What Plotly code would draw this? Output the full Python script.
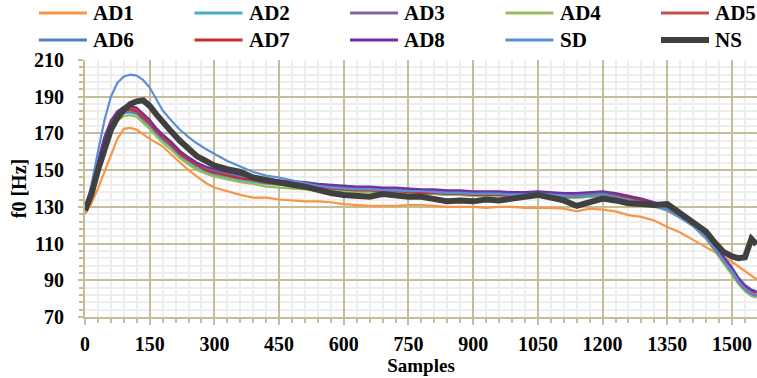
import plotly.graph_objects as go

# Sample index (shared by every series)
samples = [0, 15, 30, 45, 60, 75, 90, 105, 120, 135, 150, 165, 180, 200, 220, 240, 260, 280, 300,
           330, 360, 390, 420, 450, 480, 510, 540, 570, 600, 630, 660, 690, 720, 750, 780, 810, 840,
           870, 900, 930, 960, 990, 1020, 1050, 1080, 1110, 1140, 1170, 1200, 1230, 1260, 1290, 1320,
           1350, 1380, 1410, 1440, 1460, 1480, 1500, 1515, 1530, 1545, 1557]

# f0 contours in Hz
ad1 = [126, 132, 140, 149, 159, 167, 172.5, 173, 172, 169.5, 167, 165, 163, 158.5, 154, 150, 146.5, 143, 140.5,
       138.5, 136.5, 135, 135, 134, 133.5, 133, 133, 132.5, 131.5, 131, 130.5, 130.5, 130.5, 131, 131, 130.5, 130,
       130, 130, 129.5, 130, 130, 129.5, 129.5, 129.5, 129, 127.5, 129, 128.5, 127.5, 125.5, 124.5, 122.5,
       119, 116, 112, 108, 105.5, 102.5, 100, 97.5, 95, 92, 90.5]
ad2 = [129, 138.5, 152, 165, 173.5, 178.5, 181, 181.5, 180.5, 177.5, 174, 170, 166.5, 162.5, 157.5, 154, 151, 149, 147.5,
       146, 144.5, 143.5, 142.5, 142, 141.5, 141, 140, 139.5, 139, 138.5, 138.5, 138, 138, 137.5, 137, 137, 136.5,
       136.5, 136, 136, 136, 135.5, 135.5, 136, 135.5, 135, 135, 135.5, 136, 135, 134, 132.5, 130.5,
       128.5, 124.5, 120, 113, 107, 100.5, 94.5, 89, 85, 82.5, 81.5]
ad3 = [129.5, 140, 154.5, 167.5, 176, 181, 183.5, 184, 183, 180, 176.5, 172.5, 169, 165, 160, 156.5, 153.5, 151.5, 150,
       148.5, 147, 146, 144.5, 144, 143.5, 143, 142, 141.5, 141, 140.5, 140.5, 140, 140, 139.5, 139, 139, 138.5,
       138.5, 138, 138, 138, 137.5, 137.5, 138, 137.5, 137, 137, 137.5, 138, 137, 135.5, 134, 132,
       130, 126.5, 122, 115.5, 109.5, 103, 97, 91.5, 87.5, 85, 84]
ad4 = [128.5, 138, 151, 163.5, 172, 177, 179.5, 180, 179, 176, 172.5, 168.5, 165, 161, 156.5, 153, 150, 148, 146.5,
       145, 143.5, 142.5, 141, 140.5, 140, 139.5, 139, 138.5, 138.5, 138, 138, 137.5, 137.5, 137.5, 137, 137, 136.5,
       136.5, 136, 136, 136, 135.5, 135.5, 136, 135.5, 135, 135, 135.5, 136, 135, 133.5, 132, 130,
       128, 124, 119.5, 112.5, 106, 99.5, 93.5, 88, 84, 81.5, 80.5]
ad5 = [129, 139.5, 153.5, 167, 175.5, 180.5, 183, 184, 183, 180, 176.5, 172, 168.5, 164.5, 159.5, 156, 153, 150.5, 149,
       147.5, 146, 145, 143.5, 143, 142.5, 142, 141, 140.5, 140, 139.5, 139.5, 139, 139, 138.5, 138, 138, 137.5,
       137.5, 137, 137, 137, 136.5, 136.5, 137, 136.5, 136, 136, 136.5, 137, 136, 135, 133.5, 132,
       130, 126, 121.5, 114.5, 108.5, 102, 96, 90.5, 86.5, 84, 83]
ad6 = [129, 139, 152.5, 165.5, 174, 179, 181.5, 182, 181, 178, 174.5, 170.5, 167, 163, 158.5, 155.5, 152.5, 150.5, 149,
       147.5, 146.5, 145.5, 144, 143.5, 143, 142.5, 141.5, 141, 140, 139.5, 139.5, 139, 139, 138.5, 138.5, 138.5, 138,
       138, 137.5, 137.5, 137.5, 137, 137, 137.5, 137, 136.5, 136, 136.5, 137, 136, 134.5, 133, 131,
       128.5, 124.5, 120, 113, 107, 100.5, 94.5, 89, 85, 82.5, 81.5]
ad7 = [129, 139, 153, 166.5, 175, 180, 182.5, 183, 182, 179, 175.5, 171.5, 168, 164, 159, 155.5, 152.5, 150, 148.5,
       147, 145.5, 144.5, 143, 142.5, 142, 141.5, 140.5, 140, 139.5, 139, 139, 138.5, 138.5, 138, 137.5, 137.5, 137,
       137, 136.5, 136.5, 136.5, 136, 136, 136.5, 136, 135.5, 135.5, 136, 136.5, 136, 135, 133.5, 132,
       130, 126.5, 122, 116, 110, 102.5, 95, 89.5, 85.5, 83, 82]
ad8 = [129.5, 140.5, 155, 168, 177, 182, 184.5, 185, 184, 181, 177.5, 173, 169.5, 165.5, 160.5, 157, 154, 152, 150.5,
       149, 147.5, 146.5, 145, 144.5, 144, 143.5, 142.5, 142, 141.5, 141, 141, 140.5, 140.5, 140, 139.5, 139.5, 139,
       139, 138.5, 138.5, 138.5, 138, 138, 138.5, 138, 137.5, 137.5, 138, 138.5, 137.5, 136, 134.5, 132.5,
       130.5, 126.5, 122, 115, 109, 102.5, 96.5, 91, 87, 84.5, 83.5]
sd = [129, 142, 160, 177, 190, 197.5, 201, 202, 201.5, 199, 195, 189, 182.5, 177, 172, 168, 164.5, 161.5, 159,
      155, 152, 149, 147, 146, 144.5, 143, 141.5, 140.5, 140, 139.5, 139.5, 139, 139, 138.5, 138.5, 138, 137.5,
      137.5, 137, 137, 137, 136.5, 136.5, 137, 136.5, 136, 135.5, 136, 136.5, 135.5, 134, 132.5, 130.5,
      128, 124, 119.5, 113, 107.5, 101, 95, 89.5, 85.5, 83, 82]
ns = [128, 137, 150, 162, 172, 178.5, 183, 186, 187.5, 188, 185, 180.5, 176, 171, 166, 161.5, 157.5, 155, 152.5,
      150.5, 149, 146, 144.5, 143, 142, 141, 139, 137.5, 136.5, 136, 135.5, 137, 136, 135.5, 135.5, 134, 133,
      133.5, 133, 134, 133.5, 134.5, 135.5, 136.5, 135, 133.5, 130.5, 132.5, 134.5, 133.5, 132, 131.5, 131,
      131.5, 126.5, 122, 116.5, 110.5, 105.5, 103, 102, 102.5, 112.5, 109.5]

names = ["AD1", "AD2", "AD3", "AD4", "AD5", "AD6", "AD7", "AD8", "SD", "NS"]
series = [ad1, ad2, ad3, ad4, ad5, ad6, ad7, ad8, sd, ns]
colors = ["#F79646", "#4BACC6", "#8064A2", "#9BBB59", "#C0504D",
          "#4F81BD", "#C4302B", "#7030A0", "#5B8FD6", "#404040"]
widths = [2.2, 2.2, 2.2, 2.2, 2.2, 2.2, 2.2, 2.2, 2.2, 6]

x_ticks = list(range(0, 1501, 150))
y_ticks = list(range(70, 211, 20))

TAN = "#C4BD97"
MINOR = "#EEEEEE"
FONT = dict(family="Liberation Serif, Times New Roman, serif", size=20, color="#000000", weight="bold")

W, H = 757, 378
ML, MR, MT, MB = 85, 0, 60, 61
PW, PH = W - ML - MR, H - MT - MB

fig = go.Figure()
for name, ys, col, w in zip(names, series, colors, widths):
    fig.add_trace(go.Scatter(x=samples, y=ys, mode="lines", name=name,
                             line=dict(color=col, width=w), showlegend=False))

# Two-row legend drawn in pixel positions above the plot
def px_x(px):
    return (px - ML) / PW

def px_y(py):
    return (H - MB - py) / PH

shapes, annotations = [], []
row_y = [13, 40]
for i, (name, col, w) in enumerate(zip(names, colors, widths)):
    c, r = i % 5, i // 5
    x0 = 39 + 155.5 * c
    yy = row_y[r]
    shapes.append(dict(type="line", xref="paper", yref="paper",
                       x0=px_x(x0), x1=px_x(x0 + 48), y0=px_y(yy), y1=px_y(yy),
                       line=dict(color=col, width=3 if w < 5 else 6)))
    annotations.append(dict(xref="paper", yref="paper", x=px_x(x0 + 52), y=px_y(yy),
                            text=name, showarrow=False, xanchor="left", yanchor="middle",
                            font=dict(FONT, size=21)))

fig.update_layout(
    width=W, height=H,
    margin=dict(l=ML, r=MR, t=MT, b=MB),
    paper_bgcolor="white", plot_bgcolor="white",
    font=FONT,
    shapes=shapes, annotations=annotations,
    xaxis=dict(
        range=[0, 1558], tickvals=x_ticks, ticktext=[str(v) for v in x_ticks],
        showline=True, linecolor=TAN, linewidth=2,
        showgrid=True, gridcolor=TAN, gridwidth=2,
        ticks="outside", ticklen=6, tickcolor=TAN, tickwidth=2,
        ticklabelstandoff=2, zeroline=False,
        minor=dict(dtick=30, tick0=0, ticks="outside", ticklen=4, tickcolor=TAN, tickwidth=1.5,
                   showgrid=True, gridcolor=MINOR, gridwidth=2),
        title=dict(text="Samples", font=dict(FONT, size=19), standoff=5),
    ),
    yaxis=dict(
        range=[70, 210], tickvals=y_ticks, ticktext=[str(v) for v in y_ticks],
        showline=True, linecolor=TAN, linewidth=2,
        showgrid=True, gridcolor=TAN, gridwidth=2,
        ticks="outside", ticklen=5, tickcolor=TAN, tickwidth=2,
        ticklabelstandoff=10, zeroline=False,
        minor=dict(dtick=4, tick0=70, ticks="outside", ticklen=4, tickcolor=TAN, tickwidth=1.5,
                   showgrid=True, gridcolor=MINOR, gridwidth=2),
        title=dict(text="f0 [Hz]", font=FONT, standoff=2),
    ),
)

fig.write_html("out.html")
